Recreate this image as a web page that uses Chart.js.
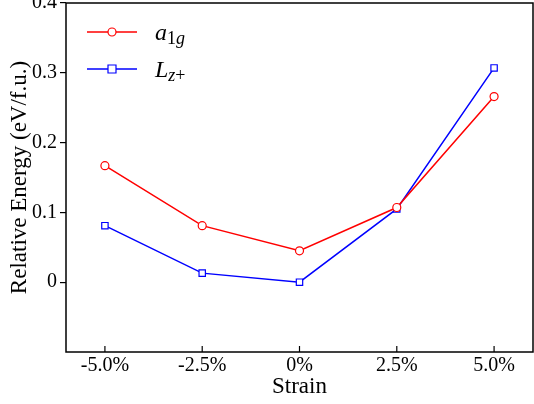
<!DOCTYPE html>
<html>
<head>
<meta charset="utf-8">
<script src="https://cdn.jsdelivr.net/npm/chart.js@4.4.0/dist/chart.umd.min.js"></script>
<style>
  body { margin: 0; background: #fff; }
  canvas { display: block; }
</style>
</head>
<body>
<canvas id="chart" width="534" height="404"></canvas>
<script>
const strain = [-5, -2.5, 0, 2.5, 5];
const strainLabels = ['-5.0%', '-2.5%', '0%', '2.5%', '5.0%'];
const a1g = [0.167, 0.081, 0.045, 0.107, 0.266];
const lz = [0.081, 0.013, 0.000, 0.105, 0.307];
const yTicks = [0, 0.1, 0.2, 0.3, 0.4];
const yTickLabels = ['0', '0.1', '0.2', '0.3', '0.4'];

const serif = '"Liberation Serif", "Times New Roman", serif';

// cadre + graduations intérieures sur l'axe x
const framePlugin = {
    id: 'frame',
    afterDraw(chart) {
        const { ctx, chartArea: a, scales } = chart;
        ctx.save();
        ctx.strokeStyle = '#000';
        ctx.lineWidth = 1.5;
        ctx.strokeRect(a.left, a.top, a.right - a.left, a.bottom - a.top);
        ctx.lineWidth = 1.2;
        strain.forEach(v => {
            const px = scales.x.getPixelForValue(v);
            ctx.beginPath();
            ctx.moveTo(px, a.bottom);
            ctx.lineTo(px, a.bottom - 6);
            ctx.stroke();
        });
        ctx.restore();
    }
};

// légende avec indices
const legendPlugin = {
    id: 'legendSub',
    afterDraw(chart) {
        const ctx = chart.ctx;
        const items = [
            { color: '#ff0000', shape: 'circle', y: 32, main: 'a', sub: '1g' },
            { color: '#0000ff', shape: 'square', y: 69, main: 'L', sub: 'z+' }
        ];
        ctx.save();
        items.forEach(it => {
            ctx.strokeStyle = it.color;
            ctx.lineWidth = 1.5;
            ctx.beginPath();
            ctx.moveTo(87, it.y);
            ctx.lineTo(137, it.y);
            ctx.stroke();
            ctx.fillStyle = '#fff';
            ctx.lineWidth = 1.2;
            ctx.beginPath();
            if (it.shape === 'circle') ctx.arc(112, it.y, 4, 0, Math.PI * 2);
            else ctx.rect(108, it.y - 4, 8, 8);
            ctx.fill();
            ctx.stroke();
            ctx.fillStyle = '#000';
            ctx.textBaseline = 'alphabetic';
            ctx.font = 'italic 24px ' + serif;
            ctx.fillText(it.main, 155, it.y + 8);
            const w = ctx.measureText(it.main).width;
            if (it.sub === '1g') {
                ctx.font = '18px ' + serif;
                ctx.fillText('1', 155 + w, it.y + 12);
                const w1 = ctx.measureText('1').width;
                ctx.font = 'italic 18px ' + serif;
                ctx.fillText('g', 155 + w + w1, it.y + 12);
            } else {
                ctx.font = 'italic 18px ' + serif;
                ctx.fillText('z', 155 + w, it.y + 12);
                const w1 = ctx.measureText('z').width;
                ctx.font = '18px ' + serif;
                ctx.fillText('+', 155 + w + w1, it.y + 12);
            }
        });
        ctx.restore();
    }
};

new Chart(document.getElementById('chart'), {
    type: 'line',
    data: {
        datasets: [
            {
                label: 'a1g',
                data: strain.map((x, i) => ({ x, y: a1g[i] })),
                borderColor: '#ff0000',
                backgroundColor: '#fff',
                borderWidth: 1.5,
                pointStyle: 'circle',
                pointRadius: 4,
                pointBorderWidth: 1.2
            },
            {
                label: 'Lz+',
                data: strain.map((x, i) => ({ x, y: lz[i] })),
                borderColor: '#0000ff',
                backgroundColor: '#fff',
                borderWidth: 1.5,
                pointStyle: 'rect',
                pointRadius: 4.5,
                pointBorderWidth: 1.2
            }
        ]
    },
    options: {
        responsive: false,
        animation: false,
        layout: { autoPadding: false, padding: { top: 3, right: 1, left: 0, bottom: 0 } },
        plugins: { legend: { display: false }, tooltip: { enabled: false } },
        scales: {
            x: {
                type: 'linear',
                min: -6,
                max: 6,
                afterBuildTicks: s => { s.ticks = strain.map(v => ({ value: v })); },
                afterFit: s => { s.height = 52; s.paddingLeft = 0; s.paddingRight = 0; },
                grid: { display: false, drawTicks: false },
                border: { display: false },
                ticks: {
                    color: '#000',
                    font: { family: serif, size: 20 },
                    padding: 2,
                    maxRotation: 0,
                    callback: v => strainLabels[strain.indexOf(v)]
                },
                title: {
                    display: true,
                    text: 'Strain',
                    color: '#000',
                    font: { family: serif, size: 23 },
                    padding: { top: 0, bottom: 3 }
                }
            },
            y: {
                min: -0.1,
                max: 0.4,
                afterBuildTicks: s => { s.ticks = yTicks.map(v => ({ value: v })); },
                afterFit: s => { s.width = 66; s.paddingTop = 0; s.paddingBottom = 0; },
                grid: {
                    drawOnChartArea: false,
                    drawTicks: true,
                    tickLength: 6,
                    color: '#000',
                    lineWidth: 1.2
                },
                border: { display: false },
                ticks: {
                    color: '#000',
                    font: { family: serif, size: 20 },
                    padding: 3,
                    callback: v => yTickLabels[yTicks.indexOf(v)]
                },
                title: {
                    display: true,
                    text: 'Relative Energy (eV/f.u.)',
                    color: '#000',
                    font: { family: serif, size: 23 },
                    padding: { top: 6, bottom: 0 }
                }
            }
        }
    },
    plugins: [framePlugin, legendPlugin]
});
</script>
</body>
</html>
